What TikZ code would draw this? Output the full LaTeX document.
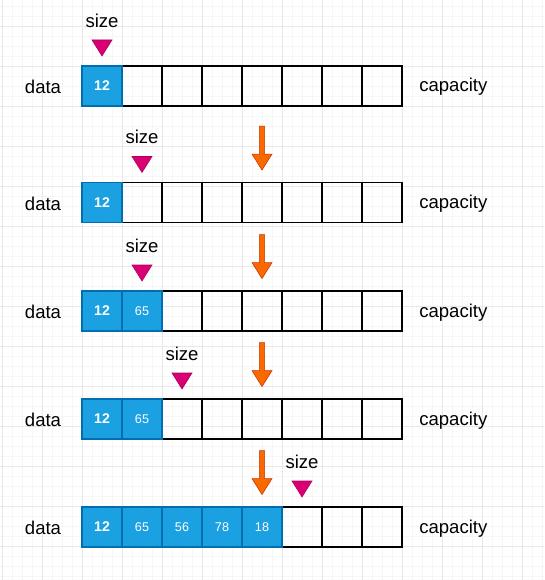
\documentclass[tikz,border=0pt]{standalone}
\usepackage{fontspec}
\setmainfont{Liberation Sans}
\definecolor{gridminor}{HTML}{F6F6F6}
\definecolor{gridmajor}{HTML}{E8E8E8}
\definecolor{fullblue}{HTML}{1BA1E2}
\definecolor{fulledge}{HTML}{006EAF}
\definecolor{sizepink}{HTML}{D80073}
\definecolor{pushorange}{HTML}{FA6800}
\definecolor{pushedge}{HTML}{C73500}
\tikzset{
  lbl/.style={font=\fontsize{13.2}{15}\selectfont,inner sep=0pt},
  cell/.style={draw=black,line width=0.8pt,minimum size=1cm,inner sep=0pt,outer sep=0pt},
  full/.style={cell,draw=fulledge,fill=fullblue,text=white,font=\fontsize{9}{10}\selectfont},
  marker/.style={fill=sizepink,draw=sizepink!80!black,line width=0.4pt},
  push/.style={fill=pushorange,draw=pushedge,line width=0.4pt},
}
\begin{document}
\begin{tikzpicture}
\useasboundingbox (0,0) rectangle (13.6,-14.5);
\clip (0,0) rectangle (13.6,-14.5);
% background grid
\begin{scope}[shift={(0.05,-0.65)}]
\draw[color=gridminor,line width=0.4pt,step=0.25] (-1,-15) grid (14,1);
\draw[color=gridmajor,line width=0.6pt,step=1] (-1,-15) grid (14,1);
\end{scope}
% one scope per step, (0,0) is the bottom of the row
\foreach \row/\ybot/\n/\s in {1/2.65/1/0,2/5.5625/1/1,3/8.275/2/1,4/10.975/2/2,5/13.675/5/5}{
\begin{scope}[yshift=-\ybot cm]
\node[lbl] (data\row) at (1.075,0.47) {data};
\node[lbl,anchor=west] (cap\row) at (10.475,0.47) {capacity};
\foreach \x in {0,...,7}
	\node[cell] (c\row-\x) at ({2.55+\x},0.5) {};
\foreach \v [count=\i from 0] in {12,65,56,78,18}{
	\ifnum\i<\n
	\ifnum\i=0
		\node[full,font=\fontsize{10}{12}\selectfont\bfseries] (v\row-\i) at ({2.55+\i},0.5) {\v};
	\else
		\node[full] (v\row-\i) at ({2.55+\i},0.5) {\v};
	\fi
	\fi
}
\node[lbl] (size\row) at ({2.55+\s},2.13) {size};
\draw[marker] ({2.3+\s},1.65) -- ({2.8+\s},1.65) -- ({2.55+\s},1.25) -- cycle;
\ifnum\row>1
	\draw[push] (6.485,2.41) -- (6.615,2.41) -- (6.615,1.71) -- (6.8,1.71)
		-- (6.55,1.31) -- (6.3,1.71) -- (6.485,1.71) -- cycle;
\fi
\end{scope}
}
\end{tikzpicture}
\end{document}
